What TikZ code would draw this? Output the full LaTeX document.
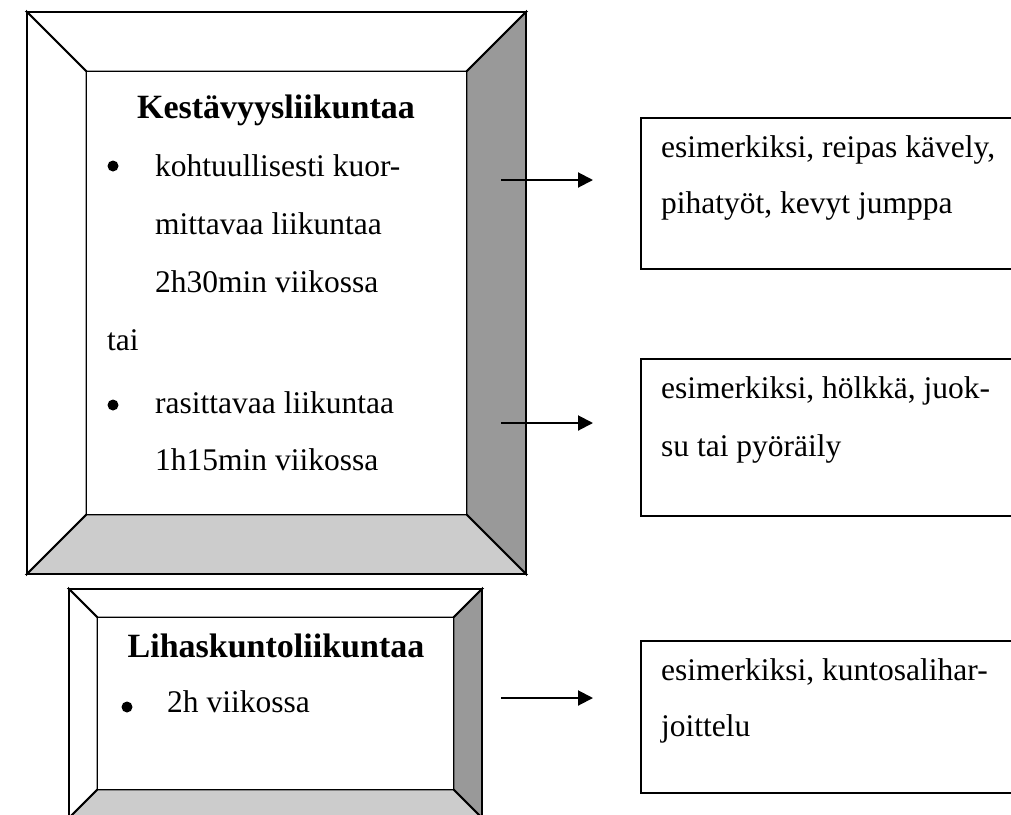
\documentclass[tikz,border=0pt]{standalone}
\usepackage{fontspec}
\setmainfont{Liberation Serif}
\usetikzlibrary{arrows.meta}
\definecolor{sidegray}{RGB}{153,153,153}
\definecolor{basegray}{RGB}{204,204,204}
% bevelled frame: x1, y1 (outer top left), x2, y2 (outer bottom right), bevel width
\newcommand{\bevelframe}[5]{
	\draw[edge, fill = white] (#1,#2) -- (#3,#2) -- (#3-#5,#2+#5) -- (#1+#5,#2+#5) -- cycle;
	\draw[edge, fill = white] (#1,#2) -- (#1+#5,#2+#5) -- (#1+#5,#4-#5) -- (#1,#4) -- cycle;
	\draw[edge, fill = sidegray] (#3,#2) -- (#3,#4) -- (#3-#5,#4-#5) -- (#3-#5,#2+#5) -- cycle;
	\draw[edge, fill = basegray] (#1,#4) -- (#3,#4) -- (#3-#5,#4-#5) -- (#1+#5,#4-#5) -- cycle;
	\draw[edge, fill = white] (#1+#5,#2+#5) rectangle (#3-#5,#4-#5);
}
\newcommand{\exbox}[2]{
	\node[draw, edge, rectangle, anchor = north west, minimum width = 420, minimum height = #2] #1
}
\newcommand{\txt}[1]{
	\node[anchor = base west, inner sep = 0, font = \fontsize{31.5}{40}\selectfont] #1
}

\begin{document}
\begin{tikzpicture}[x = 1pt, y = -1pt,
	edge/.style = {line width = 1.8pt, line join = miter},
	heading/.style = {anchor = base, inner sep = 0, font = \bfseries\fontsize{34}{40}\selectfont},
	dot/.style = {circle, fill = black, inner sep = 0, minimum size = 11},
	pointer/.style = {line width = 2pt, -{Triangle[length = 15pt, width = 15pt]}}]

		\clip (0,0) rectangle (1011,814);

		% frames
		\bevelframe{27}{12}{526}{574}{59.5}
		\bevelframe{69}{589}{482}{818}{28.5}

		% endurance frame
		\node[heading] (kesto) at (276,118) {Kestävyysliikuntaa};
		\node[dot] (dot_1) at (113,166) {};
		\txt{(k_1) at (155,176)}{kohtuullisesti kuor-};
		\txt{(k_2) at (155,234)}{mittavaa liikuntaa};
		\txt{(k_3) at (155,292)}{2h30min viikossa};
		\txt{(tai) at (107,350)}{tai};
		\node[dot] (dot_2) at (113,405) {};
		\txt{(k_4) at (155,413)}{rasittavaa liikuntaa};
		\txt{(k_5) at (155,470)}{1h15min viikossa};

		% strength frame
		\node[heading] (lihas) at (276,657) {Lihaskuntoliikuntaa};
		\node[dot] (dot_3) at (127,707) {};
		\txt{(l_1) at (167,712)}{2h viikossa};

		% example boxes
		\exbox{(ex_1) at (640,117)}{151} {};
		\txt{(e_1a) at (661,157)}{esimerkiksi, reipas kävely,};
		\txt{(e_1b) at (661,213)}{pihatyöt, kevyt jumppa};

		\exbox{(ex_2) at (640,358)}{157} {};
		\txt{(e_2a) at (661,398)}{esimerkiksi, hölkkä, juok-};
		\txt{(e_2b) at (661,456)}{su tai pyöräily};

		\exbox{(ex_3) at (640,640)}{152} {};
		\txt{(e_3a) at (661,680)}{esimerkiksi, kuntosalihar-};
		\txt{(e_3b) at (661,736)}{joittelu};

		% arrows
		\coordinate (from_1) at (501,180);
		\coordinate (to_1) at (593,180);
		\coordinate (from_2) at (501,423);
		\coordinate (to_2) at (593,423);
		\coordinate (from_3) at (501,698);
		\coordinate (to_3) at (593,698);
		\draw[pointer] (from_1) -- (to_1);
		\draw[pointer] (from_2) -- (to_2);
		\draw[pointer] (from_3) -- (to_3);
	\end{tikzpicture}
\end{document}
